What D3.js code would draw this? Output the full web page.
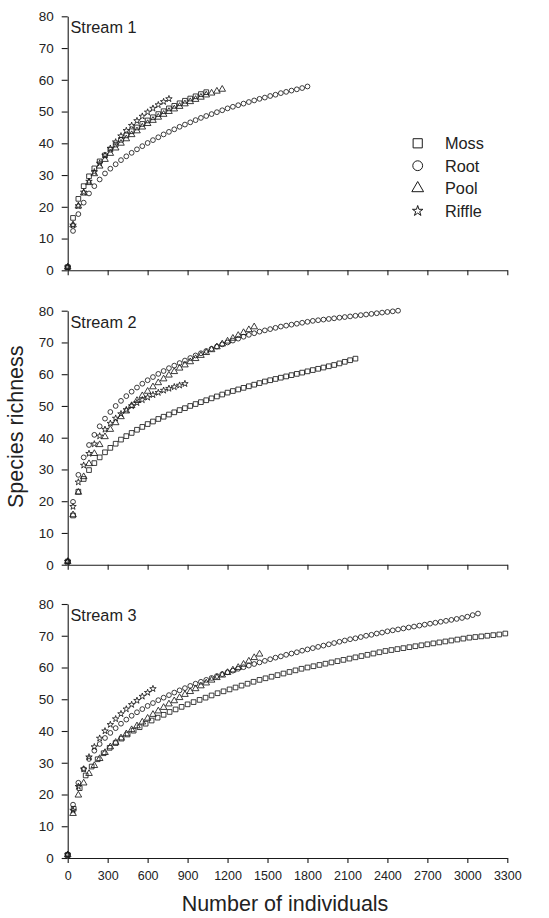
<!DOCTYPE html>
<html>
<head>
<meta charset="utf-8">
<script src="https://cdn.jsdelivr.net/npm/d3@7/dist/d3.min.js"></script>
<style>
  body { margin: 0; background: #fff; }
  svg { display: block; font-family: 'Liberation Sans', Arial, Helvetica, sans-serif; }
</style>
</head>
<body>
<svg id="canvas"></svg>
<script>
let streams = ['Stream 1', 'Stream 2', 'Stream 3'];
let habitats = ['Moss', 'Root', 'Pool', 'Riffle'];
let xTicks = [0, 300, 600, 900, 1200, 1500, 1800, 2100, 2400, 2700, 3000, 3300];
let yTicks = [0, 10, 20, 30, 40, 50, 60, 70, 80];

// [number of individuals, species richness]
let stream1Moss = [[0,1],[40,16.5],[80,22.5],[120,26.5],[160,29.6],[200,32.1],[240,34.3],[280,36.2],[320,38],[360,39.6],[400,41.1],[440,42.5],[480,43.8],[520,45],[560,46.1],[600,47.2],[640,48.2],[680,49.2],[720,50.1],[760,51],[800,51.8],[840,52.6],[880,53.4],[920,54.1],[960,54.8],[1000,55.5],[1040,56.1]];
let stream1Root = [[0,1],[40,12.4],[80,17.7],[120,21.3],[160,24.2],[200,26.5],[240,28.6],[280,30.5],[320,32],[360,33.4],[400,34.7],[440,35.9],[480,37],[520,38.1],[560,39.1],[600,40.1],[640,41],[680,41.9],[720,42.8],[760,43.6],[800,44.4],[840,45.2],[880,45.9],[920,46.6],[960,47.3],[1000,48],[1040,48.6],[1080,49.2],[1120,49.8],[1160,50.4],[1200,51],[1240,51.5],[1280,52],[1320,52.5],[1360,53],[1400,53.5],[1440,54],[1480,54.4],[1520,54.9],[1560,55.3],[1600,55.8],[1640,56.2],[1680,56.6],[1720,57],[1760,57.4],[1800,57.9]];
let stream1Pool = [[0,1],[40,14.3],[80,20.2],[120,24.3],[160,27.6],[200,30.4],[240,32.8],[280,34.9],[320,36.8],[360,38.5],[400,40],[440,41.4],[480,42.7],[520,43.9],[560,45.1],[600,46.2],[640,47.2],[680,48.2],[720,49.1],[760,50],[800,50.8],[840,51.6],[880,52.4],[920,53.1],[960,53.8],[1000,54.5],[1040,55.2],[1080,55.8],[1120,56.4],[1160,57]];
let stream1Riffle = [[0,1],[40,14.2],[80,20.3],[120,24.6],[160,28],[200,31],[240,33.7],[280,36.2],[320,38.4],[360,40.4],[400,42.3],[440,44],[480,45.6],[520,47.1],[560,48.5],[600,49.8],[640,51],[680,52.1],[720,53.1],[760,54]];

let stream2Moss = [[0,1],[40,15.5],[80,23],[120,27],[160,29.8],[200,32],[240,33.8],[280,35.4],[320,36.8],[360,38.1],[400,39.4],[440,40.5],[480,41.5],[520,42.5],[560,43.4],[600,44.3],[640,45.1],[680,45.9],[720,46.6],[760,47.3],[800,48],[840,48.7],[880,49.3],[920,50],[960,50.6],[1000,51.2],[1040,51.8],[1080,52.4],[1120,53],[1160,53.6],[1200,54.2],[1240,54.7],[1280,55.2],[1320,55.7],[1360,56.2],[1400,56.7],[1440,57.2],[1480,57.7],[1520,58.1],[1560,58.5],[1600,58.9],[1640,59.3],[1680,59.7],[1720,60.1],[1760,60.5],[1800,60.9],[1840,61.3],[1880,61.7],[1920,62.1],[1960,62.5],[2000,62.9],[2040,63.4],[2080,63.9],[2120,64.4],[2160,64.9]];
let stream2Root = [[0,1],[40,19.8],[80,28.3],[120,33.8],[160,37.7],[200,40.9],[240,43.6],[280,46],[320,48.1],[360,50],[400,51.6],[440,53.1],[480,54.5],[520,55.8],[560,57],[600,58.1],[640,59.1],[680,60.1],[720,61],[760,61.9],[800,62.7],[840,63.5],[880,64.3],[920,65.1],[960,65.9],[1000,66.6],[1040,67.3],[1080,68],[1120,68.7],[1160,69.4],[1200,70],[1240,70.6],[1280,71.2],[1320,71.8],[1360,72.4],[1400,72.9],[1440,73.4],[1480,73.8],[1520,74.2],[1560,74.6],[1600,75],[1640,75.3],[1680,75.6],[1720,75.9],[1760,76.2],[1800,76.5],[1840,76.8],[1880,77],[1920,77.2],[1960,77.4],[2000,77.6],[2040,77.8],[2080,78],[2120,78.2],[2160,78.4],[2200,78.6],[2240,78.8],[2280,79],[2320,79.2],[2360,79.4],[2400,79.6],[2440,79.8],[2480,80]];
let stream2Pool = [[0,1],[40,15.7],[80,22.8],[120,27.7],[160,31.8],[200,35],[240,37.8],[280,40.3],[320,42.6],[360,44.7],[400,46.6],[440,48.4],[480,50.1],[520,51.7],[560,53.2],[600,54.6],[640,56],[680,57.3],[720,58.5],[760,59.7],[800,60.8],[840,61.9],[880,62.9],[920,63.9],[960,64.9],[1000,65.9],[1040,66.8],[1080,67.7],[1120,68.6],[1160,69.5],[1200,70.4],[1240,71.3],[1280,72.2],[1320,73.1],[1360,74],[1400,74.9]];
let stream2Riffle = [[0,1],[40,18.3],[80,26],[120,31.3],[160,35],[200,38],[240,40.5],[280,42.6],[320,44.5],[360,46.1],[400,47.5],[440,48.8],[480,50],[520,51],[560,51.9],[600,52.7],[640,53.5],[680,54.2],[720,54.9],[760,55.5],[800,56],[840,56.5],[880,57]];

let stream3Moss = [[0,1],[45,15.5],[90,22],[135,26],[180,28.8],[225,31.1],[270,33],[315,34.7],[360,36.2],[405,37.6],[450,38.9],[495,40.1],[540,41.2],[585,42.3],[630,43.3],[675,44.2],[720,45.1],[765,46],[810,46.8],[855,47.6],[900,48.4],[945,49.1],[990,49.8],[1035,50.5],[1080,51.2],[1125,51.9],[1170,52.5],[1215,53.1],[1260,53.7],[1305,54.3],[1350,54.9],[1395,55.5],[1440,56.1],[1485,56.6],[1530,57.1],[1575,57.6],[1620,58.1],[1665,58.6],[1710,59.1],[1755,59.6],[1800,60],[1845,60.4],[1890,60.8],[1935,61.2],[1980,61.6],[2025,62],[2070,62.4],[2115,62.8],[2160,63.2],[2205,63.6],[2250,64],[2295,64.4],[2340,64.8],[2385,65.2],[2430,65.5],[2475,65.8],[2520,66.1],[2565,66.4],[2610,66.7],[2655,67],[2700,67.3],[2745,67.6],[2790,67.9],[2835,68.2],[2880,68.5],[2925,68.8],[2970,69.1],[3015,69.4],[3060,69.6],[3105,69.8],[3150,70],[3195,70.2],[3240,70.4],[3285,70.7]];
let stream3Root = [[0,1],[40,16.8],[80,23.7],[120,28],[160,31.2],[200,33.8],[240,35.9],[280,37.8],[320,39.4],[360,40.9],[400,42.3],[440,43.6],[480,44.8],[520,45.9],[560,46.9],[600,47.9],[640,48.8],[680,49.7],[720,50.5],[760,51.3],[800,52.1],[840,52.8],[880,53.5],[920,54.2],[960,54.9],[1000,55.5],[1040,56.1],[1080,56.7],[1120,57.3],[1160,57.9],[1200,58.5],[1240,59],[1280,59.6],[1320,60.1],[1360,60.6],[1400,61.1],[1440,61.6],[1480,62.1],[1520,62.6],[1560,63.1],[1600,63.5],[1640,64],[1680,64.4],[1720,64.8],[1760,65.3],[1800,65.7],[1840,66.1],[1880,66.5],[1920,66.9],[1960,67.3],[2000,67.7],[2040,68.1],[2080,68.5],[2120,68.9],[2160,69.2],[2200,69.6],[2240,70],[2280,70.3],[2320,70.7],[2360,71],[2400,71.4],[2440,71.7],[2480,72],[2520,72.3],[2560,72.6],[2600,72.9],[2640,73.2],[2680,73.5],[2720,73.8],[2760,74.1],[2800,74.4],[2840,74.7],[2880,75],[2920,75.3],[2960,75.6],[3000,76],[3040,76.5],[3080,77]];
let stream3Pool = [[0,1],[40,14],[80,19.8],[120,23.6],[160,26.6],[200,29.1],[240,31.3],[280,33.2],[320,35],[360,36.4],[400,37.8],[440,39.1],[480,40.4],[520,41.6],[560,42.8],[600,44],[640,45.2],[680,46.3],[720,47.4],[760,48.5],[800,49.5],[840,50.5],[880,51.5],[920,52.4],[960,53.3],[1000,54.2],[1040,55.1],[1080,56],[1120,56.8],[1160,57.6],[1200,58.4],[1240,59.2],[1280,60],[1320,61],[1360,62],[1400,63.1],[1440,64.2]];
let stream3Riffle = [[0,1],[40,15],[80,22.5],[120,28],[160,31.8],[200,35],[240,37.7],[280,40],[320,42],[360,43.8],[400,45.4],[440,46.9],[480,48.3],[520,49.6],[560,50.9],[600,52.1],[640,53.3]];

let panelSeries = [
	[stream1Moss, stream1Root, stream1Pool, stream1Riffle],
	[stream2Moss, stream2Root, stream2Pool, stream2Riffle],
	[stream3Moss, stream3Root, stream3Pool, stream3Riffle]
];

let width = 549;
let height = 918;
let panelTops = [16.3, 310.7, 604];
let panelHeight = 254;
let ink = '#1a1a1a';

let symbolTypes = { Moss: d3.symbolSquare, Root: d3.symbolCircle, Pool: d3.symbolTriangle, Riffle: d3.symbolStar };
let markSize = { Moss: 22, Root: 18, Pool: 19, Riffle: 13 };
let legendMarkSize = { Moss: 84, Root: 76, Pool: 60, Riffle: 34 };

let svg = d3.select('#canvas')
	.attr('width', width)
	.attr('height', height);

let xScale = d3.scaleLinear()
	.domain([0, 3300])
	.range([67.7, 507.3]);

let drawPanel = (i) => {
	let top = panelTops[i];
	let yScale = d3.scaleLinear()
		.domain([0, 80])
		.range([top + panelHeight, top]);

	let g = svg.append('g').attr('class', 'panel');

	let xAxis = d3.axisBottom(xScale)
		.tickValues(xTicks)
		.tickSize(5)
		.tickSizeOuter(0)
		.tickPadding(8.5)
		.tickFormat(i === 2 ? d3.format('d') : () => '');

	let yAxis = d3.axisLeft(yScale)
		.tickValues(yTicks)
		.tickSize(6)
		.tickSizeOuter(0)
		.tickPadding(8)
		.tickFormat(d3.format('d'));

	g.append('g')
		.attr('transform', `translate(0, ${yScale(0)})`)
		.call(xAxis)
		.call(ax => ax.selectAll('text').attr('font-size', 12.5).attr('fill', '#222').attr('font-family', null))

	g.append('g')
		.attr('transform', `translate(${xScale(0)}, 0)`)
		.call(yAxis)
		.call(ax => ax.selectAll('text').attr('font-size', 13.5).attr('fill', '#222').attr('font-family', null))

	g.selectAll('.domain, .tick line')
		.attr('stroke', ink)
		.attr('stroke-width', 1.1)

	g.append('text')
		.text(streams[i])
		.attr('x', 70.5)
		.attr('y', top + 17)
		.attr('font-size', 16.3)
		.attr('fill', '#222')

	habitats.forEach((h, j) => {
		g.append('g')
			.selectAll('path')
			.data(panelSeries[i][j])
			.enter()
			.append('path')
			.attr('d', d3.symbol().type(symbolTypes[h]).size(markSize[h]))
			.attr('transform', (d) => `translate(${xScale(d[0])}, ${yScale(d[1])})`)
			.attr('fill', 'none')
			.attr('stroke', ink)
			.attr('stroke-width', 0.85)
	})
}

let drawLegend = () => {
	let legendY = [143.3, 165.7, 188.3, 211];
	let lg = svg.append('g').attr('id', 'legend');
	habitats.forEach((h, j) => {
		lg.append('path')
			.attr('d', d3.symbol().type(symbolTypes[h]).size(legendMarkSize[h]))
			.attr('transform', `translate(417.7, ${legendY[j]})`)
			.attr('fill', 'none')
			.attr('stroke', ink)
			.attr('stroke-width', 1)
		lg.append('text')
			.text(h)
			.attr('x', 445)
			.attr('y', legendY[j] + 5.8)
			.attr('font-size', 16.3)
			.attr('fill', '#222')
	})
}

let drawLabels = () => {
	svg.append('text')
		.text('Species richness')
		.attr('transform', 'translate(23, 426.7) rotate(-90)')
		.attr('text-anchor', 'middle')
		.attr('font-size', 21.5)
		.attr('fill', '#222')

	svg.append('text')
		.text('Number of individuals')
		.attr('x', 285)
		.attr('y', 911)
		.attr('text-anchor', 'middle')
		.attr('font-size', 21.5)
		.attr('fill', '#222')
}

streams.forEach((s, i) => drawPanel(i));
drawLegend();
drawLabels();
</script>
</body>
</html>
